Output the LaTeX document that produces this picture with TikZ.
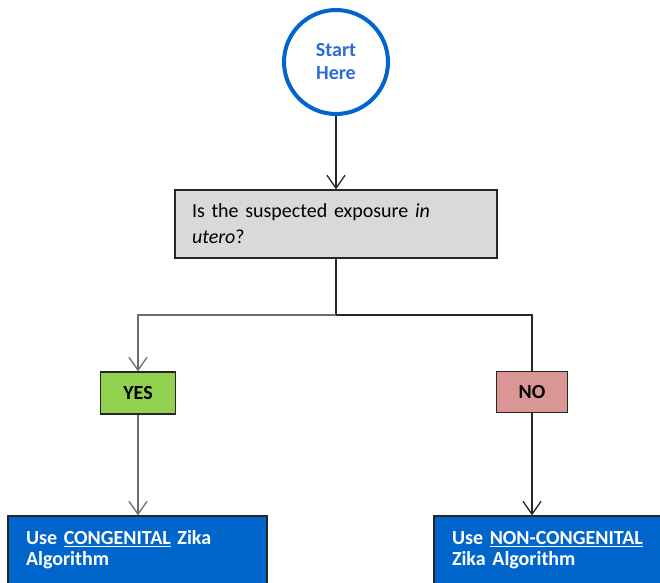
\documentclass[tikz,border=0pt]{standalone}
\usepackage{fontspec}
\setmainfont{Carlito}
\usetikzlibrary{arrows.meta}
\definecolor{zblue}{HTML}{0066CC}
\definecolor{startblue}{HTML}{2F6BD6}
\definecolor{qgray}{HTML}{D9D9D9}
\definecolor{yesgreen}{HTML}{92D050}
\definecolor{nopink}{HTML}{DA9694}
\definecolor{edgegray}{HTML}{6E6E6E}
\definecolor{edgedark}{HTML}{262626}
\begin{document}
\begin{tikzpicture}[x=1pt,y=-1pt,
  startc/.style={circle,draw=zblue,line width=4pt,fill=white,minimum size=104pt,inner sep=0pt,
    align=center,text=startblue,font=\fontsize{20}{23}\selectfont\bfseries},
  box/.style={rectangle,draw=edgedark,line width=1.2pt,inner ysep=0pt},
  qbox/.style={box,fill=qgray,minimum height=68pt,inner xsep=17pt,text width=288pt,align=left,
    font=\fontsize{20}{26}\selectfont},
  yesbox/.style={box,fill=yesgreen,minimum width=75pt,minimum height=42pt,inner xsep=0pt,
    font=\fontsize{20}{24}\selectfont\bfseries},
  nobox/.style={box,fill=nopink,minimum width=71pt,minimum height=41pt,inner xsep=0pt,
    font=\fontsize{20}{24}\selectfont\bfseries},
  algbox/.style={box,fill=zblue,minimum height=68pt,inner xsep=18pt,align=left,text=white,
    font=\fontsize{20}{21}\selectfont\bfseries},
  arr/.style={-{Straight Barb[length=13pt,width=18pt]}},
  gline/.style={draw=edgegray,line width=1.3pt},
  dline/.style={draw=edgedark,line width=1.3pt}
]
\useasboundingbox (0,0) rectangle (660,582);
\clip (0,0) rectangle (660,582);

\node[startc] (start) at (336,62) {Start\\Here};
\node[qbox] (q) at (336,224) {Is the suspected exposure \textit{in}\\\textit{utero}?};
\node[yesbox] (yes) at (138,393) {YES};
\node[nobox] (no) at (532,392) {NO};
\node[algbox,text width=223pt] (cong) at (137.5,550) {Use \underline{CONGENITAL} Zika\\Algorithm};
\node[algbox,text width=204pt] (noncong) at (554,550) {Use \underline{NON-CONGENITAL}\\Zika Algorithm};

\coordinate (j) at (336,315);

\draw[dline,arr] (start.south) -- (q.north);
\draw[dline] (q.south) -- (j);
\draw[gline,arr] (j) -| (yes.north);
\draw[dline] (j) -| (no.north);
\draw[gline,arr] (yes.south) -- (yes.south |- cong.north);
\draw[dline,arr] (no.south) -- (no.south |- noncong.north);
\end{tikzpicture}
\end{document}
